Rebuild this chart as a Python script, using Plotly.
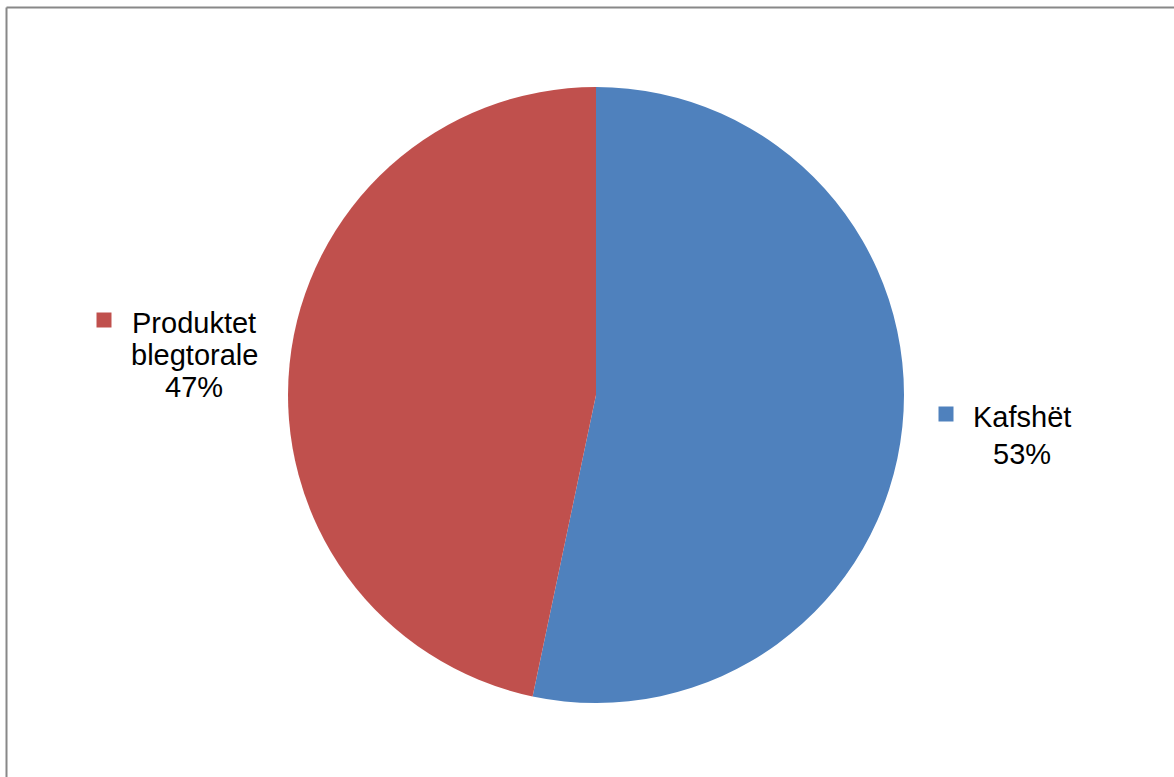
import plotly.graph_objects as go

labels = ["Kafshët", "Produktet blegtorale"]
label_lines = [["Kafshët"], ["Produktet", "blegtorale"]]
values = [53.3, 46.7]
colors = ["#4F81BD", "#C0504D"]

W, H = 1174, 777
def px(x):
    return x / W
def py(y):
    return 1 - y / H

fig = go.Figure(go.Pie(
    labels=labels,
    values=values,
    sort=False,
    direction="clockwise",
    rotation=0,
    marker=dict(colors=colors, line=dict(width=0)),
    textinfo="none",
    hoverinfo="label+percent",
    showlegend=False,
    domain=dict(x=[px(288), px(904)], y=[py(703), py(87)]),
))

total = sum(values)
pcts = [round(v / total * 100) for v in values]

# label layout (pixel): text center x, baselines per line, marker center
label_pos = [
    dict(tx=1022, base=[427, 464], mx=946, my=414),
    dict(tx=194, base=[333, 365, 397], mx=104, my=320),
]

FS = 29
font = dict(family="Liberation Sans, Arial, sans-serif", size=FS, color="#000000")
shapes = []
annotations = []
for i in range(len(labels)):
    p = label_pos[i]
    lines = label_lines[i] + [f"{pcts[i]}%"]
    for line, b in zip(lines, p["base"]):
        annotations.append(dict(
            x=px(p["tx"]), y=py(b - 10), xref="paper", yref="paper",
            text=line, showarrow=False, font=font, align="center",
            xanchor="center", yanchor="middle",
        ))
    shapes.append(dict(
        type="rect", xref="paper", yref="paper",
        x0=px(p["mx"] - 7.5), x1=px(p["mx"] + 7.5),
        y0=py(p["my"] + 7.5), y1=py(p["my"] - 7.5),
        fillcolor=colors[i], line=dict(width=0),
    ))

# chart border (top and left visible)
shapes.append(dict(type="line", xref="paper", yref="paper",
                   x0=px(6.5), x1=1, y0=py(7.5), y1=py(7.5),
                   line=dict(color="#888888", width=2)))
shapes.append(dict(type="line", xref="paper", yref="paper",
                   x0=px(6.5), x1=px(6.5), y0=0, y1=py(7.5),
                   line=dict(color="#888888", width=2)))

fig.update_layout(
    width=W, height=H,
    margin=dict(l=0, r=0, t=0, b=0),
    paper_bgcolor="white",
    plot_bgcolor="white",
    shapes=shapes,
    annotations=annotations,
)

fig.write_html("out.html", config={"displayModeBar": False},
               post_script="document.body.style.margin='0';document.body.style.overflow='hidden';")
